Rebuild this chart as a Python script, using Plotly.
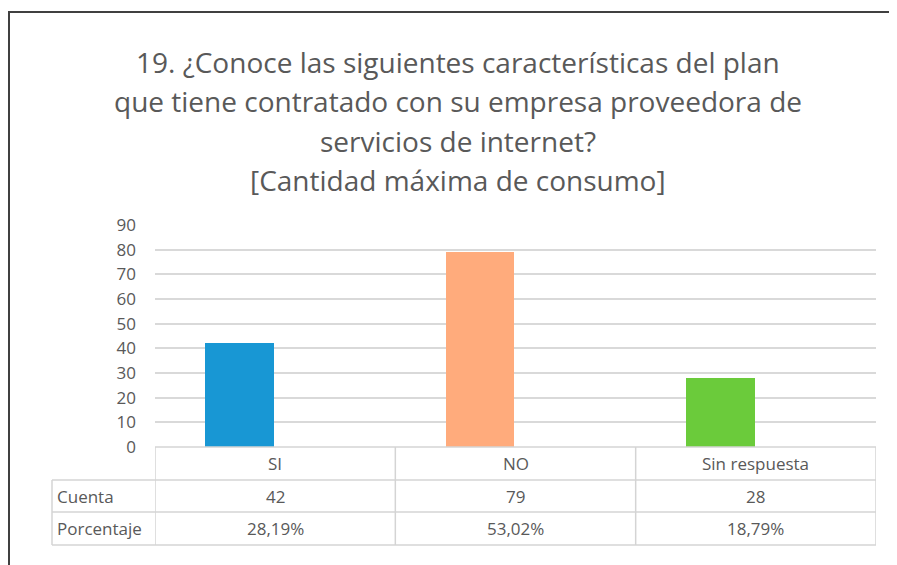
import plotly.graph_objects as go

categories = ["SI", "NO", "Sin respuesta"]
cuenta = [42, 79, 28]
porcentaje = ["28,19%", "53,02%", "18,79%"]
row_labels = ["Cuenta", "Porcentaje"]
bar_colors = ["#1897D4", "#FFAB7C", "#6BCB3B"]
title_lines = [
    "19. ¿Conoce las siguientes características del plan",
    "que tiene contratado con su empresa proveedora de",
    "servicios de internet?",
    "[Cantidad máxima de consumo]",
]
y_ticks = list(range(0, 100, 10))

# page body has an 8px margin, so the figure is drawn at (8, 8)
OFF = 8
W, H = 897 - OFF, 565 - OFF
PL, PR, PT, PB = 155, 876, 225, 447  # plot area in page pixels
L, R, T, B = PL - OFF, W - (PR - OFF), PT - OFF, H - (PB - OFF)
PW, PH = PR - PL, PB - PT

def px(x):
    return (x - PL) / PW

def py(y):
    return 1 - (y - PT) / PH

grid = "#D9D9D9"
txt = "#595959"
font = "Open Sans"

fig = go.Figure()
fig.add_trace(go.Bar(x=[0, 1, 2], y=cuenta, marker=dict(color=bar_colors, line=dict(width=0)),
                     width=0.285, offset=-0.29, showlegend=False))

shapes = []
annotations = []

# frame
shapes.append(dict(type="line", xref="paper", yref="paper", x0=px(8), x1=px(905), y0=py(12), y1=py(12),
                   line=dict(color="#404040", width=2)))
shapes.append(dict(type="line", xref="paper", yref="paper", x0=px(9), x1=px(9), y0=py(12), y1=py(565),
                   line=dict(color="#404040", width=2)))

# table
row_y = [447, 480, 512, 545]
cell = dict(color="#D4D4D4", width=1.5)
shapes.append(dict(type="line", xref="x", yref="paper", x0=-0.5, x1=2.5, y0=py(row_y[0]), y1=py(row_y[0]), line=cell))
for yy in row_y[1:]:
    shapes.append(dict(type="line", xref="paper", yref="paper", x0=px(52), x1=1, y0=py(yy), y1=py(yy), line=cell))
for xv in [-0.5, 0.5, 1.5, 2.5]:
    shapes.append(dict(type="line", xref="x", yref="paper", x0=xv, x1=xv, y0=py(row_y[0]), y1=py(row_y[3]), line=cell))
shapes.append(dict(type="line", xref="paper", yref="paper", x0=px(52), x1=px(52), y0=py(row_y[1]), y1=py(row_y[3]), line=cell))

tf = dict(family=font, size=17, color=txt)
for i, c in enumerate(categories):
    for k, val in enumerate([c, str(cuenta[i]), porcentaje[i]]):
        annotations.append(dict(x=i, y=py((row_y[k] + row_y[k + 1]) / 2), xref="x", yref="paper", text=val,
                                showarrow=False, xanchor="center", yanchor="middle", font=tf))
for j, lab in enumerate(row_labels):
    annotations.append(dict(x=px(55), y=py((row_y[j + 1] + row_y[j + 2]) / 2), xref="paper", yref="paper", text=lab,
                            showarrow=False, xanchor="left", yanchor="middle", font=tf))

title_y = [62, 101, 141, 180]
for t, yy in zip(title_lines, title_y):
    annotations.append(dict(x=px(458), y=py(yy), xref="paper", yref="paper", text=t, showarrow=False,
                            xanchor="center", yanchor="middle",
                            font=dict(family=font, size=28, color=txt)))

fig.update_layout(
    width=W, height=H,
    margin=dict(l=L, r=R, t=T, b=B),
    paper_bgcolor="white", plot_bgcolor="white",
    shapes=shapes, annotations=annotations,
    xaxis=dict(range=[-0.5, 2.5], showticklabels=False, showgrid=False, zeroline=False, fixedrange=True),
    yaxis=dict(range=[0, 90], tickvals=y_ticks, showgrid=True, gridcolor=grid, gridwidth=2,
               zeroline=False, ticks="", ticklen=0, ticklabelstandoff=18,
               tickfont=dict(family=font, size=17, color=txt)),
    bargap=0,
)
fig.write_html("out.html")
